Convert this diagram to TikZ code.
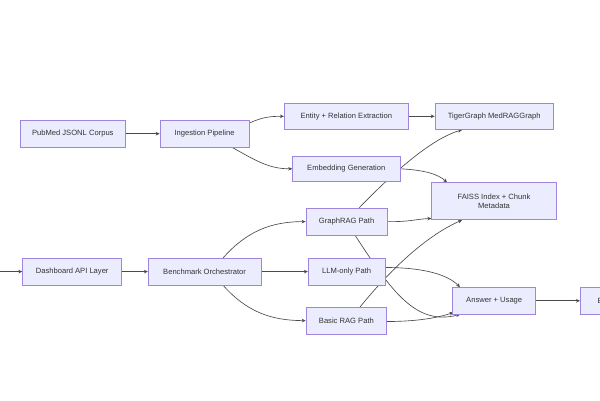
\documentclass[tikz,border=0pt]{standalone}
\usepackage{fontspec}
\setmainfont{Liberation Sans}
\usetikzlibrary{arrows.meta,backgrounds}
\definecolor{boxfill}{HTML}{ECECFF}
\definecolor{boxline}{HTML}{9E86DE}
\definecolor{edgec}{HTML}{4A4A4A}
\definecolor{txt}{HTML}{333333}
\begin{document}
\begin{tikzpicture}[x=1pt,y=-1pt,
 box/.style={draw=boxline,fill=boxfill,line width=0.7pt,font=\fontsize{7.6}{9.5}\selectfont,text=txt,inner sep=0pt,align=center,minimum height=26.5pt},
 link/.style={draw=edgec,line width=0.65pt,-{Stealth[length=4pt,width=3.6pt]}}]
\useasboundingbox (0,0) rectangle (600,400);
% nodes
\node[box,minimum width=104.5pt] (pub) at (72.8,133.7) {PubMed JSONL Corpus};
\node[box,minimum width=89pt] (ing) at (204.5,133.7) {Ingestion Pipeline};
\node[box,minimum width=124pt] (ent) at (346.3,116.3) {Entity + Relation Extraction};
\node[box,minimum width=118.3pt] (tg) at (494.2,116.3) {TigerGraph MedRAGGraph};
\node[box,minimum width=107.3pt,minimum height=25.7pt] (emb) at (346.3,168.8) {Embedding Generation};
\node[box,minimum width=124.5pt,minimum height=37pt] (faiss) at (494,201.3) {FAISS Index + Chunk\\Metadata};
\node[box,minimum width=81.3pt] (grag) at (346.6,221.6) {GraphRAG Path};
\node[box,minimum width=76.7pt] (llm) at (346.6,271.6) {LLM-only Path};
\node[box,minimum width=80.7pt] (brag) at (346.4,320.6) {Basic RAG Path};
\node[box,minimum width=99pt] (dash) at (72.2,271.6) {Dashboard API Layer};
\node[box,minimum width=112.7pt] (bench) at (204.6,271.6) {Benchmark Orchestrator};
\node[box,minimum width=83pt] (ans) at (494.2,300.8) {Answer + Usage};
\node[box,anchor=west,inner xsep=14pt,minimum width=70pt,align=left] (eval) at (580,300.8) {Evaluation};
\coordinate (src) at (-10,271.6);
% edges
\begin{scope}[on background layer]
\fill[white] (0,0) rectangle (600,400);
\draw[link] (src) -- (dash.west);
\draw[link] (dash.east) -- (bench.west);
\draw[link] (pub.east) -- (ing.west);
\draw[link] (ing.east|-0,123) .. controls (263,117) and (270,116.3) .. (ent.west);
\draw[link] (232,0|-ing.south) .. controls (258,162) and (270,168.8) .. (emb.west);
\draw[link] (ent.east) -- (tg.west);
\draw[link] (359,0|-grag.north) .. controls (390,176) and (430,139) .. (462,0|-tg.south);
\draw[link] (emb.east) .. controls (424,170) and (438,174) .. (447,0|-faiss.north);
\draw[link] (grag.east) .. controls (410,222) and (416,219) .. (faiss.west|-0,218.5);
\draw[link] (360,0|-brag.north) .. controls (395,264) and (430,234) .. (462,0|-faiss.south);
\draw[link] (223,0|-bench.north) .. controls (246,232) and (270,221.6) .. (grag.west);
\draw[link] (bench.east) -- (llm.west);
\draw[link] (223,0|-bench.south) .. controls (246,311) and (270,320.6) .. (brag.west);
\draw[link] (355,0|-grag.south) .. controls (392,292) and (416,326) .. (460,0|-ans.south);
\draw[link] (llm.east|-0,267.5) .. controls (422,267.5) and (447,274) .. (460,0|-ans.north);
\draw[link] (brag.east|-0,321.5) .. controls (420,321.5) and (440,317) .. (453.5,312.5);
\draw[link] (ans.east) -- (eval.west);
\end{scope}
\end{tikzpicture}
\end{document}
